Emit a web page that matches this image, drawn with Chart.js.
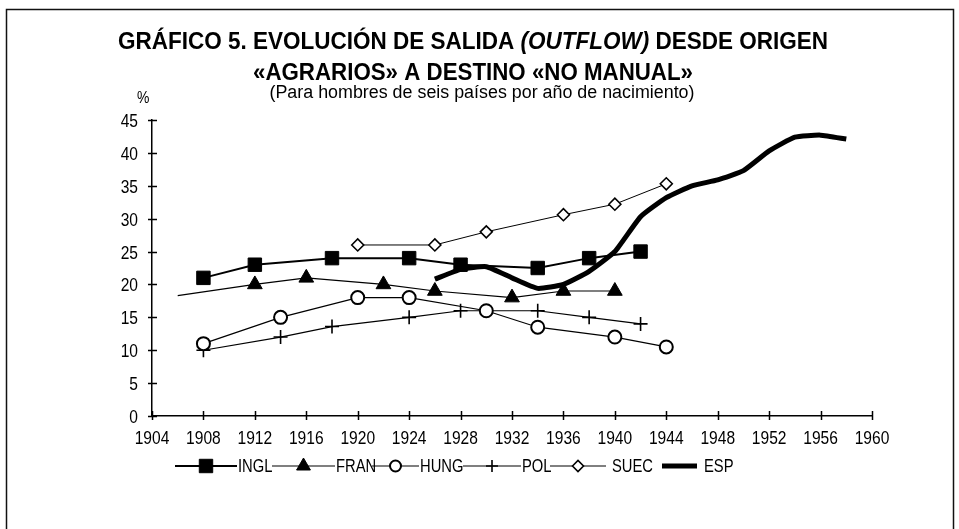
<!DOCTYPE html>
<html>
<head>
<meta charset="utf-8">
<script src="https://cdn.jsdelivr.net/npm/chart.js@4.4.1/dist/chart.umd.min.js"></script>
<style>
  html, body { margin: 0; padding: 0; background: #fff; }
  #wrap { width: 959px; height: 529px; }
</style>
</head>
<body>
<div id="wrap"><canvas id="myChart" width="959" height="529"></canvas></div>
<script>
// tick labels
const xTicks = [1904, 1908, 1912, 1916, 1920, 1924, 1928, 1932, 1936, 1940, 1944, 1948, 1952, 1956, 1960];
const yTicks = [0, 5, 10, 15, 20, 25, 30, 35, 40, 45];

// series (year of birth, % outflow)
const inglYears  = [1908, 1912, 1918, 1924, 1928, 1934, 1938, 1942];
const inglValues = [21, 23, 24, 24, 23, 22.5, 24, 25];
const franYears  = [1906, 1912, 1916, 1922, 1926, 1932, 1936, 1940];
const franValues = [18.3, 20, 21, 20, 19, 18, 19, 19];
const hungYears  = [1908, 1914, 1920, 1924, 1930, 1934, 1940, 1944];
const hungValues = [11, 15, 18, 18, 16, 13.5, 12, 10.5];
const polYears   = [1908, 1914, 1918, 1924, 1928, 1934, 1938, 1942];
const polValues  = [10, 12, 13.6, 15, 16, 16, 15, 14];
const suecYears  = [1920, 1926, 1930, 1936, 1940, 1944];
const suecValues = [26, 26, 28, 30.6, 32.2, 35.3];
const espYears   = [1926, 1928, 1930, 1932, 1934, 1936, 1938, 1940, 1942, 1944, 1946, 1948, 1950, 1952, 1954, 1956, 1958];
const espValues  = [20.8, 22.3, 22.7, 21, 19.4, 20, 22, 25, 30.3, 33.2, 35, 35.9, 37.3, 40.3, 42.4, 42.7, 42.1];

const FONT = "'Liberation Sans', Arial, sans-serif";
const SQUEEZE = 0.82; // the printed type is a narrow grotesque

function pts(xs, ys) {
  return xs.map((x, i) => ({ x: x, y: ys[i] }));
}

// fillText squeezed horizontally
function fillNarrow(ctx, text, x, y) {
  const w = ctx.measureText(text).width;
  ctx.fillText(text, x, y, w * SQUEEZE);
  return w * SQUEEZE;
}

function drawRuns(ctx, runs, cx, y, targetW) {
  let total = 0;
  runs.forEach(r => { ctx.font = r.font; r.w = ctx.measureText(r.text).width; total += r.w; });
  const k = Math.min(1, targetW / total);
  let x = cx - total * k / 2;
  ctx.textAlign = 'left';
  ctx.textBaseline = 'alphabetic';
  runs.forEach(r => {
    ctx.font = r.font;
    ctx.fillText(r.text, x, y, r.w * k);
    x += r.w * k;
  });
}

// frame, title and "%" label
const headerPlugin = {
  id: 'header',
  afterDraw(chart) {
    const ctx = chart.ctx;
    ctx.save();
    ctx.strokeStyle = '#111';
    ctx.lineWidth = 1.5;
    ctx.beginPath();
    ctx.moveTo(6.5, 540);
    ctx.lineTo(6.5, 9.5);
    ctx.lineTo(953.5, 9.5);
    ctx.lineTo(953.5, 540);
    ctx.stroke();

    ctx.fillStyle = '#000';
    drawRuns(ctx, [
      { text: 'GRÁFICO 5. EVOLUCIÓN DE SALIDA ', font: 'bold 23px ' + FONT },
      { text: '(OUTFLOW)', font: 'italic bold 23px ' + FONT },
      { text: ' DESDE ORIGEN', font: 'bold 23px ' + FONT }
    ], 473, 49, 710);
    drawRuns(ctx, [
      { text: '«AGRARIOS» A DESTINO «NO MANUAL»', font: 'bold 23px ' + FONT }
    ], 473, 80, 440);
    drawRuns(ctx, [
      { text: '(Para hombres de seis países por año de nacimiento)', font: '18px ' + FONT }
    ], 482, 98, 425);

    ctx.font = '17px ' + FONT;
    ctx.textAlign = 'left';
    fillNarrow(ctx, '%', 137, 103);
    ctx.restore();
  }
};

// tick labels and small ticks crossing both axes
const axisDecor = {
  id: 'axisDecor',
  afterDraw(chart) {
    const ctx = chart.ctx, xs = chart.scales.x, ys = chart.scales.y;
    const x0 = xs.left, y0 = ys.bottom;
    ctx.save();
    ctx.strokeStyle = '#000';
    ctx.lineWidth = 1.5;
    ctx.beginPath();
    xTicks.forEach(v => {
      const px = Math.round(xs.getPixelForValue(v)) + 0.5;
      ctx.moveTo(px, y0 - 5);
      ctx.lineTo(px, y0 + 4);
    });
    yTicks.forEach(v => {
      const py = Math.round(ys.getPixelForValue(v)) + 0.5;
      ctx.moveTo(x0 - 4, py);
      ctx.lineTo(x0 + 5, py);
    });
    ctx.stroke();

    ctx.fillStyle = '#000';
    ctx.font = '19px ' + FONT;
    ctx.textAlign = 'center';
    ctx.textBaseline = 'alphabetic';
    xTicks.forEach(v => fillNarrow(ctx, String(v), xs.getPixelForValue(v), y0 + 28));
    ctx.textAlign = 'right';
    yTicks.forEach(v => fillNarrow(ctx, String(v), x0 - 14, ys.getPixelForValue(v) + 7));
    ctx.restore();
  }
};

// legend with line + marker samples: where each sample line starts, its length, gap before text
const legendLayout = [
  { x: 175, line: 62, gap: 1 },
  { x: 272, line: 63, gap: 1 },
  { x: 372, line: 47, gap: 1 },
  { x: 463, line: 58, gap: 1 },
  { x: 550, line: 56, gap: 6 },
  { x: 662, line: 35, gap: 7 }
];
const lineLegend = {
  id: 'lineLegend',
  afterDraw(chart) {
    const ctx = chart.ctx;
    const y = 466;
    ctx.save();
    ctx.font = '18px ' + FONT;
    ctx.textBaseline = 'middle';
    ctx.textAlign = 'left';
    chart.data.datasets.forEach((ds, i) => {
      const lay = legendLayout[i];
      const x = lay.x;
      ctx.strokeStyle = '#000';
      ctx.lineWidth = ds.borderWidth;
      ctx.beginPath();
      ctx.moveTo(x, y);
      ctx.lineTo(x + lay.line, y);
      ctx.stroke();
      if (ds.pointStyle) {
        ctx.fillStyle = ds.pointBackgroundColor;
        ctx.strokeStyle = '#000';
        ctx.lineWidth = ds.pointBorderWidth;
        Chart.helpers.drawPoint(ctx, {
          pointStyle: ds.pointStyle,
          radius: ds.legendRadius,
          borderWidth: ds.pointBorderWidth,
          rotation: 0
        }, x + lay.line / 2, y);
      }
      ctx.fillStyle = '#000';
      fillNarrow(ctx, ds.label, x + lay.line + lay.gap, y + 1);
    });
    ctx.restore();
  }
};

const ctx = document.getElementById('myChart').getContext('2d');
const myChart = new Chart(ctx, {
  type: 'line',
  data: {
    datasets: [
      {
        label: 'INGL', data: pts(inglYears, inglValues),
        borderColor: '#000', borderWidth: 2,
        pointStyle: 'rect', pointRadius: 9.5, legendRadius: 9.5,
        pointBackgroundColor: '#000', pointBorderColor: '#000', pointBorderWidth: 1
      },
      {
        label: 'FRAN', data: pts(franYears, franValues),
        borderColor: '#000', borderWidth: 1.2,
        pointStyle: 'triangle', legendRadius: 8,
        pointRadius: (c) => c.dataIndex === 0 ? 0 : 8.5,
        pointBackgroundColor: '#000', pointBorderColor: '#000', pointBorderWidth: 1
      },
      {
        label: 'HUNG', data: pts(hungYears, hungValues),
        borderColor: '#000', borderWidth: 1.2,
        pointStyle: 'circle', pointRadius: 6.5, legendRadius: 5.5,
        pointBackgroundColor: '#fff', pointBorderColor: '#000', pointBorderWidth: 2
      },
      {
        label: 'POL', data: pts(polYears, polValues),
        borderColor: '#000', borderWidth: 1.2,
        pointStyle: 'cross', pointRadius: 7, legendRadius: 6,
        pointBackgroundColor: '#000', pointBorderColor: '#000', pointBorderWidth: 1.6
      },
      {
        label: 'SUEC', data: pts(suecYears, suecValues),
        borderColor: '#000', borderWidth: 1,
        pointStyle: 'rectRot', pointRadius: 6, legendRadius: 5.5,
        pointBackgroundColor: '#fff', pointBorderColor: '#000', pointBorderWidth: 1.6
      },
      {
        label: 'ESP', data: pts(espYears, espValues),
        borderColor: '#000', borderWidth: 5,
        pointStyle: false, pointRadius: 0,
        tension: 0.15, borderJoinStyle: 'round'
      }
    ]
  },
  options: {
    responsive: false,
    devicePixelRatio: 1,
    animation: false,
    layout: { padding: { left: 112, right: 87, top: 120, bottom: 73 } },
    plugins: {
      legend: { display: false },
      title: { display: false },
      tooltip: { enabled: false }
    },
    scales: {
      x: {
        type: 'linear', min: 1904, max: 1960,
        grid: { display: false, drawTicks: false },
        border: { display: true, color: '#000', width: 1.5 },
        afterBuildTicks: (s) => { s.ticks = xTicks.map(v => ({ value: v })); },
        afterFit: (s) => { s.height = 40; },
        ticks: { display: false }
      },
      y: {
        min: 0, max: 45,
        grid: { display: false, drawTicks: false },
        border: { display: true, color: '#000', width: 1.5 },
        afterBuildTicks: (s) => { s.ticks = yTicks.map(v => ({ value: v })); },
        afterFit: (s) => { s.width = 40; },
        ticks: { display: false }
      }
    }
  },
  plugins: [headerPlugin, axisDecor, lineLegend]
});
</script>
</body>
</html>
